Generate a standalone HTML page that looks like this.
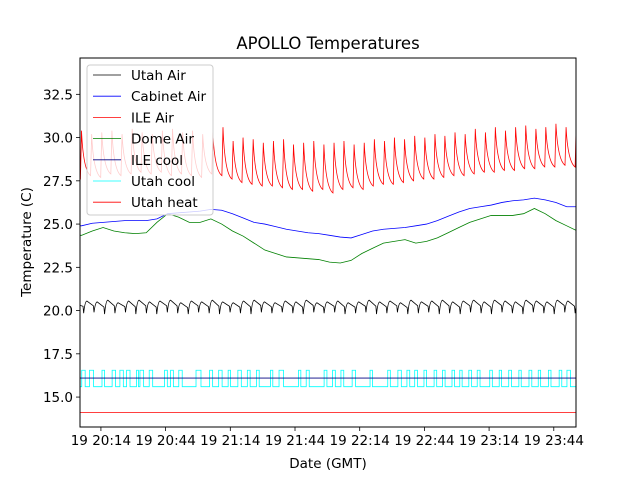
<!DOCTYPE html>
<html><head><meta charset="utf-8"><style>
body{margin:0;background:#fff;}
svg{display:block;font-family:"DejaVu Sans","Liberation Sans",sans-serif;}
</style></head><body>
<svg id="chart" width="640" height="480">
<rect width="640" height="480" fill="#fff"/>
<text x="328" y="49" text-anchor="middle" font-size="16.5">APOLLO Temperatures</text>
<g id="plot"></g>
<g id="axes"></g>
<text x="328" y="468" text-anchor="middle" font-size="13.5">Date (GMT)</text>
<text transform="translate(31,242) rotate(-90)" text-anchor="middle" font-size="13.5">Temperature (C)</text>
<g id="legend"></g>
</svg>
<script>
// minutes after 20:00
const xTickMinutes=[14,44,74,104,134,164,194,224];
const xTickLabels=["19 20:14","19 20:44","19 21:14","19 21:44","19 22:14","19 22:44","19 23:14","19 23:44"];
const yTickValues=[15,17.5,20,22.5,25,27.5,30,32.5];
const yTickLabels=["15.0","17.5","20.0","22.5","25.0","27.5","30.0","32.5"];
const seriesNames=["Utah Air","Cabinet Air","ILE Air","Dome Air","ILE cool","Utah cool","Utah heat"];
const seriesColors=["#000000","#0000ff","#ff0000","#008000","#000080","#00ffff","#ff0000"];
const sampleT=[5,10,15,20,25,30,35,40,45,50,55,60,65,70,75,80,85,90,95,100,105,110,115,120,125,130,135,140,145,150,155,160,165,170,175,180,185,190,195,200,205,210,215,220,225,230,235];
const domeAir=[24.35,24.6,24.8,24.6,24.5,24.45,24.5,25.1,25.6,25.4,25.1,25.1,25.3,25.0,24.6,24.3,23.9,23.5,23.3,23.1,23.05,23.0,22.95,22.8,22.75,22.9,23.3,23.6,23.9,24.0,24.1,23.9,24.0,24.2,24.5,24.8,25.1,25.3,25.5,25.5,25.5,25.6,25.9,25.6,25.2,24.9,24.6];
const cabinetAir=[24.9,25.05,25.1,25.15,25.2,25.2,25.2,25.3,25.6,25.65,25.7,25.75,25.85,25.8,25.6,25.35,25.1,25.0,24.85,24.7,24.6,24.5,24.45,24.35,24.25,24.2,24.4,24.6,24.7,24.75,24.8,24.9,25.0,25.2,25.45,25.7,25.9,26.0,26.1,26.25,26.35,26.4,26.5,26.4,26.25,26.0,26.0];
const ileCycleT=[4.5,9.2,13.9,18.6,23.3,28.0,32.6,37.3,42.0,46.7,51.4,56.0,60.7,65.4,70.1,74.8,79.4,84.1,88.8,93.5,98.2,102.8,107.5,112.2,116.9,121.6,126.2,130.9,135.6,140.3,145.0,149.6,154.3,159.0,163.7,168.4,173.0,177.7,182.4,187.1,191.8,196.4,201.1,205.8,210.5,215.2,219.8,224.5,229.2,233.9];
const ilePeak=[30.4,30.2,30.3,30.4,30.2,30.5,30.3,30.2,30.4,30.5,30.3,30.4,30.2,30.3,30.6,29.8,30.0,29.9,29.7,29.8,29.9,29.6,29.7,29.8,29.6,29.7,29.8,29.6,29.7,29.9,29.8,30.0,29.9,30.1,30.0,30.2,30.1,30.3,30.2,30.5,30.3,30.6,30.4,30.6,30.7,30.5,30.6,30.8,30.6,30.9];
const ileTrough=[27.6,27.8,27.7,27.9,27.8,27.9,28.0,27.9,28.0,27.8,27.9,27.8,27.7,27.9,27.8,27.6,27.4,27.3,27.2,27.2,27.1,27.0,27.0,26.9,27.0,26.8,27.0,27.1,27.0,27.2,27.3,27.3,27.4,27.5,27.6,27.6,27.7,27.8,27.8,27.9,28.0,28.0,28.1,28.1,28.2,28.2,28.3,28.3,28.4,28.3];
const utahCycleT=[6.0,10.8,15.7,20.5,25.4,30.2,35.1,39.9,44.8,49.6,54.5,59.3,64.2,69.0,73.9,78.7,83.6,88.4,93.3,98.1,103.0,107.8,112.7,117.5,122.4,127.2,132.1,136.9,141.8,146.6,151.5,156.3,161.2,166.0,170.9,175.7,180.6,185.4,190.3,195.1,200.0,204.8,209.7,214.5,219.4,224.2,229.1,233.9];
const utahTrough=[19.85,19.9,19.8,19.85,19.9,19.8,19.85,19.8,19.9,19.85,19.8,19.9,19.85,19.8,19.9,19.85,19.8,19.9,19.85,19.9,19.85,19.8,19.9,19.85,19.9,19.8,19.85,19.9,19.8,19.85,19.9,19.8,19.85,19.9,19.8,19.85,19.8,19.9,19.85,19.8,19.9,19.85,19.8,19.9,19.85,19.8,19.9,19.85];
const utahPeak=[20.55,20.5,20.6,20.45,20.55,20.6,20.5,20.55,20.6,20.45,20.55,20.5,20.6,20.5,20.45,20.55,20.6,20.5,20.45,20.55,20.5,20.6,20.45,20.5,20.55,20.45,20.5,20.6,20.5,20.55,20.45,20.6,20.5,20.55,20.6,20.5,20.55,20.6,20.5,20.6,20.55,20.5,20.6,20.55,20.5,20.6,20.55,20.6];
const utahCoolOn=[5.1,8.7,14.5,19.2,22.8,25.9,30.5,32.1,36.4,43.5,46.3,50.1,58.1,64.4,68.6,73.0,77.5,81.9,86.1,92.6,96.6,105.6,109.2,117.5,121.4,125.3,130.5,138.8,147.0,151.7,155.9,159.5,163.8,168.5,172.4,176.8,180.4,184.6,188.5,194.3,198.7,203.1,207.8,212.5,216.8,221.5,226.5,230.1];
const utahCoolOff=[6.7,10.6,15.7,20.8,24.4,27.5,31.4,33.8,38.0,44.8,47.6,51.7,60.4,65.8,70.2,74.1,79.1,83.2,87.4,93.7,98.7,106.7,110.6,118.8,122.7,126.6,132.1,139.9,148.2,153.3,157.2,160.8,165.0,169.7,173.6,178.0,181.5,185.9,189.8,195.5,199.8,204.4,208.9,213.8,217.9,222.7,227.7,231.7];
const utahCoolLevels=[15.6,16.55];
const ileCoolValue=16.1;
const utahHeatValue=14.1;

const L=80,R=576,T=58,B=427;
const x0=4.3,x1=234.3,y0=13.27,y1=34.6;
const X=t=>L+(t-x0)/(x1-x0)*(R-L);
const Y=v=>B-(v-y0)/(y1-y0)*(B-T);
const NS="http://www.w3.org/2000/svg";
function mk(tag,attrs,parent){const e=document.createElementNS(NS,tag);for(const k in attrs)e.setAttribute(k,attrs[k]);parent.appendChild(e);return e;}
const plot=document.getElementById('plot'),axes=document.getElementById('axes'),leg=document.getElementById('legend');
mk('clipPath',{id:'clip'},plot).appendChild(Object.assign(document.createElementNS(NS,'rect'),{})).setAttribute('x',L);
const cr=document.querySelector('#clip rect');cr.setAttribute('y',T);cr.setAttribute('width',R-L);cr.setAttribute('height',B-T);
const g=mk('g',{'clip-path':'url(#clip)'},plot);
function line(d,color,name){const p=mk('path',{d:d,fill:'none',stroke:color,'stroke-width':0.8},g);

return p;}
// Utah heat, ILE cool
line(`M${L},${Y(utahHeatValue)}H${R}`,seriesColors[6],'utah-heat-line');
// Utah cool square wave
let d=`M${L},${Y(utahCoolLevels[0])}`;
for(let i=0;i<utahCoolOn.length;i++){d+=`H${X(utahCoolOn[i])}V${Y(utahCoolLevels[1])}H${X(utahCoolOff[i])}V${Y(utahCoolLevels[0])}`;}
d+=`H${R}`;line(d,seriesColors[5],'utah-cool-line');
line(`M${L},${Y(ileCoolValue)}H${R}`,seriesColors[4],'ile-cool-line');
// Utah air
d=`M${L},${Y(20.3)}`;
for(let i=0;i<utahCycleT.length;i++){const t=utahCycleT[i];d+=`L${X(t-0.3)},${Y((utahPeak[Math.max(i-1,0)]+utahTrough[i])/2+0.05)}L${X(t)},${Y(utahTrough[i])}Q${X(t+0.6)},${Y(utahPeak[i])} ${X(t+1.5)},${Y(utahPeak[i])}`;}
line(d,seriesColors[0],'utah-air-line');
// Dome & cabinet
function poly(ts,vs){return ts.map((t,i)=>(i?'L':'M')+X(t)+','+Y(vs[i])).join('');}
line(`M${L},${Y(domeAir[0])}`+poly(sampleT,domeAir).replace(/^M/,'L'),seriesColors[3],'dome-air-line');
line(`M${L},${Y(cabinetAir[0])}`+poly(sampleT,cabinetAir).replace(/^M/,'L'),seriesColors[1],'cabinet-air-line');
// ILE air
d=`M${L},${Y(ileTrough[0])}`;
for(let i=0;i<ileCycleT.length;i++){const t=ileCycleT[i];const nt=i+1<ileCycleT.length?ileCycleT[i+1]:t+4.7;const nv=i+1<ileTrough.length?ileTrough[i+1]:ileTrough[i];
d+=`L${X(t)},${Y(ileTrough[i])}L${X(t+0.5)},${Y(ilePeak[i])}Q${X(t+1.3)},${Y(nv+0.3)} ${X(nt)},${Y(nv)}`;}
line(d,seriesColors[2],'ile-air-line');
// frame
mk('rect',{x:L,y:T,width:R-L,height:B-T,fill:'none',stroke:'#000','stroke-width':1},axes);
xTickMinutes.forEach((t,i)=>{const x=X(t);
mk('line',{x1:x,x2:x,y1:B,y2:B+4,stroke:'#000','stroke-width':0.8},axes);
const tx=mk('text',{x:x,y:B+18,'text-anchor':'middle','font-size':13.5},axes);tx.textContent=xTickLabels[i];

});
yTickValues.forEach((v,i)=>{const y=Y(v);
mk('line',{x1:L-4,x2:L,y1:y,y2:y,stroke:'#000','stroke-width':0.8},axes);
const tx=mk('text',{x:L-7,y:y+5,'text-anchor':'end','font-size':13.5},axes);tx.textContent=yTickLabels[i];

});
// legend
mk('rect',{x:87,y:65,width:126,height:150,rx:3,fill:'#fff','fill-opacity':0.8,stroke:'#ccc','stroke-width':1},leg);
seriesNames.forEach((n,i)=>{const y=75+i*21.2;
mk('line',{x1:93,x2:121,y1:y,y2:y,stroke:seriesColors[i],'stroke-width':0.8},leg);
const tx=mk('text',{x:131,y:y+5,'font-size':13.5},leg);tx.textContent=n;

});
</script>
</body></html>
